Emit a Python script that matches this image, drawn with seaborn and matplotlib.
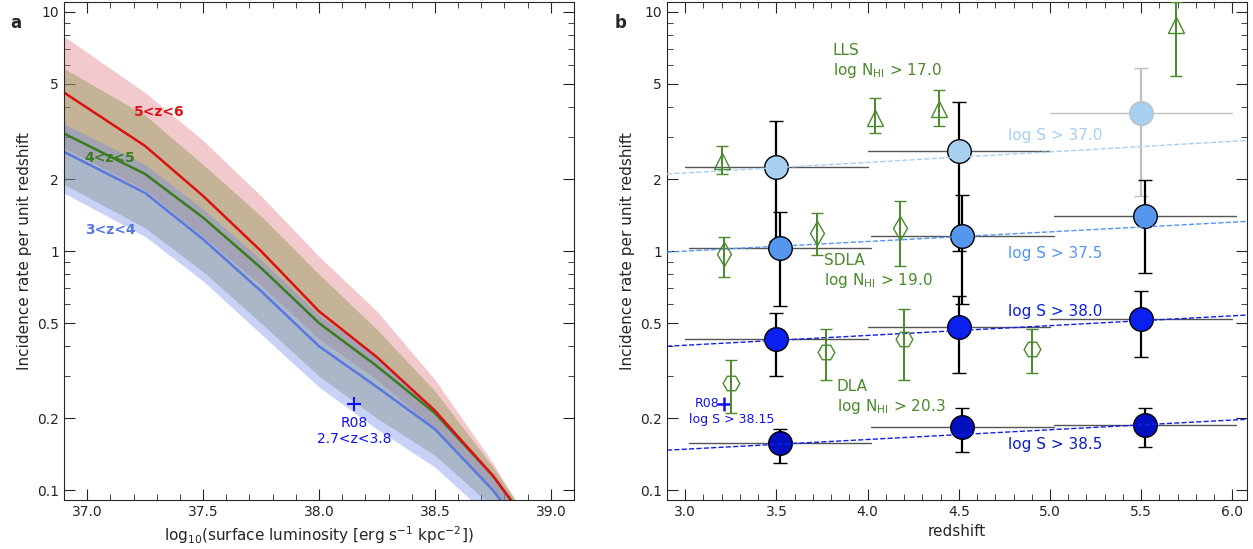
import numpy as np
import pandas as pd
import matplotlib
matplotlib.use("Agg")
import matplotlib.pyplot as plt
from matplotlib.ticker import FixedLocator, FixedFormatter, MultipleLocator, LogLocator, NullFormatter
import seaborn as sns

sns.set_style("ticks")
plt.rcParams['font.family'] = ['DejaVu Sans']

# ---- panel a data
lum = [36.9, 37.25, 37.5, 37.75, 38.0, 38.25, 38.5, 38.75, 38.85]
red_mid = [4.6, 2.75, 1.7, 1.0, 0.56, 0.36, 0.215, 0.115, 0.085]
red_up = [7.9, 4.6, 2.9, 1.7, 0.95, 0.56, 0.29, 0.13, 0.09]
red_lo = [2.7, 1.8, 1.15, 0.72, 0.43, 0.29, 0.18, 0.1, 0.08]
green_mid = [3.1, 2.1, 1.38, 0.85, 0.5, 0.33, 0.21, 0.115, 0.085]
green_up = [5.8, 3.7, 2.3, 1.4, 0.8, 0.47, 0.26, 0.125, 0.09]
green_lo = [1.9, 1.25, 0.82, 0.5, 0.3, 0.2, 0.14, 0.085, 0.07]
blue_mid = [2.6, 1.75, 1.12, 0.68, 0.40, 0.27, 0.18, 0.1, 0.075]
blue_up = [3.4, 2.3, 1.5, 0.92, 0.54, 0.36, 0.22, 0.115, 0.085]
blue_lo = [1.75, 1.15, 0.75, 0.45, 0.27, 0.18, 0.125, 0.075, 0.06]

# ---- panel b data
zc = [3.5, 4.5, 5.5]
s370 = [2.25, 2.62, 3.76]; s370_up = [3.49, 4.2, 5.83]; s370_lo = [1.1, 1.0, 1.7]
s375 = [1.03, 1.16, 1.40]; s375_up = [1.45, 1.71, 1.98]; s375_lo = [0.59, 0.6, 0.81]
s380 = [0.43, 0.48, 0.52]; s380_up = [0.55, 0.65, 0.68]; s380_lo = [0.30, 0.31, 0.36]
s385 = [0.157, 0.183, 0.187]; s385_up = [0.18, 0.22, 0.22]; s385_lo = [0.13, 0.145, 0.152]
fit_z = [2.9, 6.08]
fit370 = [2.1, 2.9]; fit375 = [0.99, 1.33]; fit380 = [0.40, 0.54]; fit385 = [0.147, 0.198]

lls_z = [3.2, 4.04, 4.39, 5.69]; lls = [2.37, 3.6, 3.93, 8.8]
lls_up = [2.76, 4.38, 4.73, 11.0]; lls_lo = [2.09, 3.12, 3.34, 5.4]
sdla_z = [3.21, 3.72, 4.18]; sdla = [0.97, 1.19, 1.25]
sdla_up = [1.14, 1.44, 1.62]; sdla_lo = [0.78, 0.96, 0.87]
dla_z = [3.25, 3.77, 4.2, 4.9]; dla = [0.28, 0.38, 0.43, 0.39]
dla_up = [0.35, 0.47, 0.57, 0.47]; dla_lo = [0.21, 0.29, 0.29, 0.31]

GREEN = "#4a8a2a"
fig = plt.figure(figsize=(12.53, 5.49), dpi=100)
axa = fig.add_axes([64/1253, 49/549, 510/1253, 498/549])
axb = fig.add_axes([667/1253, 49/549, 580/1253, 498/549])

def style(ax):
    ax.set_yscale("log")
    ax.set_ylim(0.091, 11)
    ax.yaxis.set_major_locator(FixedLocator([0.1, 0.2, 0.5, 1, 2, 5, 10]))
    ax.yaxis.set_major_formatter(FixedFormatter(["0.1", "0.2", "0.5", "1", "2", "5", "10"]))
    ax.yaxis.set_minor_locator(LogLocator(subs=np.arange(1, 10)))
    ax.yaxis.set_minor_formatter(NullFormatter())
    ax.tick_params(which="both", direction="in", top=True, right=True, labelsize=10)
    ax.tick_params(which="major", length=8)
    ax.tick_params(which="minor", length=4)
    ax.set_ylabel("Incidence rate per unit redshift", fontsize=11)

# panel a
for up, lo, fc, al in [(red_up, red_lo, "#e07880", 0.4),
                       (green_up, green_lo, "#7a9040", 0.38),
                       (blue_up, blue_lo, "#7088e8", 0.38)]:
    axa.fill_between(lum, lo, up, color=fc, alpha=al, lw=0)
for mid, lc in [(blue_mid, "#5a78e0"), (green_mid, "#3a7d1e"), (red_mid, "#dd1111")]:
    sns.lineplot(x=lum, y=mid, ax=axa, color=lc, lw=1.8)
axa.plot([38.15], [0.23], "+", color="#1010ee", ms=10, mew=1.5)
axa.text(38.15, 0.205, "R08\n2.7<z<3.8", color="#1010ee", ha="center", va="top", fontsize=10)
axa.text(37.2, 3.8, "5<z<6", color="#dd1111", fontweight="bold", fontsize=10, va="center")
axa.text(36.99, 2.45, "4<z<5", color="#3a7d1e", fontweight="bold", fontsize=10, va="center")
axa.text(36.99, 1.22, "3<z<4", color="#5a78e0", fontweight="bold", fontsize=10, va="center")
axa.set_xlim(36.9, 39.1)
axa.xaxis.set_major_locator(MultipleLocator(0.5))
axa.xaxis.set_minor_locator(MultipleLocator(0.1))
style(axa)
axa.set_xlabel(r"log$_{10}$(surface luminosity [erg s$^{-1}$ kpc$^{-2}$])", fontsize=11)
fig.text(10/1253, 1-28/549, "a", fontweight="bold", fontsize=12)

# panel b
for zz, yy, up, lo, fc, off in [
        (zc, s370, s370_up, s370_lo, "#a8d0f0", 0.0),
        (zc, s375, s375_up, s375_lo, "#5596ee", 0.02),
        (zc, s380, s380_up, s380_lo, "#0a20f0", 0.0),
        (zc, s385, s385_up, s385_lo, "#0010c0", 0.02)]:
    for i, (x, y, u, l) in enumerate(zip(zz, yy, up, lo)):
        grey = (fc == "#a8d0f0" and i == 2)
        c = "#c0c0c0" if grey else "black"
        axb.plot([x - 0.5 + off, x + 0.5 + off], [y, y], color="#c0c0c0" if grey else "#555555", lw=1, zorder=2)
        axb.errorbar(x + off, y, yerr=[[y - l], [u - y]], fmt="none", ecolor=c, capsize=5, lw=1.6, zorder=3)
        axb.plot(x + off, y, "o", ms=17, mfc=fc, mec=c, mew=1, zorder=4)
for fit, c in [(fit370, "#a8d0f0"), (fit375, "#5596ee"), (fit380, "#1020e0"), (fit385, "#1020e0")]:
    sns.lineplot(x=fit_z, y=fit, ax=axb, color=c, lw=1, linestyle="--", zorder=5)
for zz, yy, up, lo, m in [(lls_z, lls, lls_up, lls_lo, "^"), (sdla_z, sdla, sdla_up, sdla_lo, "d"),
                          (dla_z, dla, dla_up, dla_lo, "H")]:
    yy = np.array(yy)
    axb.errorbar(zz, yy, yerr=[yy - np.array(lo), np.array(up) - yy], fmt=m, ms=12, mfc="none",
                 mec=GREEN, ecolor=GREEN, capsize=4, lw=1.4, zorder=6)
axb.plot([3.21], [0.23], "+", color="#1010ee", ms=10, mew=1.8)
axb.text(3.19, 0.23, "R08", color="#1010ee", ha="right", va="center", fontsize=9)
axb.text(3.02, 0.197, "log S > 38.15", color="#1010ee", ha="left", va="center", fontsize=9)
axb.text(3.81, 6.2, "LLS\nlog N$_{\\rm HI}$ > 17.0", color=GREEN, fontsize=11, va="center")
axb.text(3.76, 0.82, "SDLA\nlog N$_{\\rm HI}$ > 19.0", color=GREEN, fontsize=11, va="center")
axb.text(3.83, 0.245, "DLA\nlog N$_{\\rm HI}$ > 20.3", color=GREEN, fontsize=11, va="center")
for txt, y, c in [("log S > 37.0", 3.05, "#a8d0f0"), ("log S > 37.5", 0.98, "#5596ee"),
                  ("log S > 38.0", 0.56, "#0a20e0"), ("log S > 38.5", 0.155, "#0a20c0")]:
    axb.text(4.77, y, txt, color=c, fontsize=11, ha="left", va="center")
axb.set_xlim(2.9, 6.08)
axb.xaxis.set_major_locator(MultipleLocator(0.5))
axb.xaxis.set_minor_locator(MultipleLocator(0.1))
style(axb)
axb.set_xlabel("redshift", fontsize=11)
fig.text(615/1253, 1-28/549, "b", fontweight="bold", fontsize=12)

fig.savefig("out.png", dpi=100)
